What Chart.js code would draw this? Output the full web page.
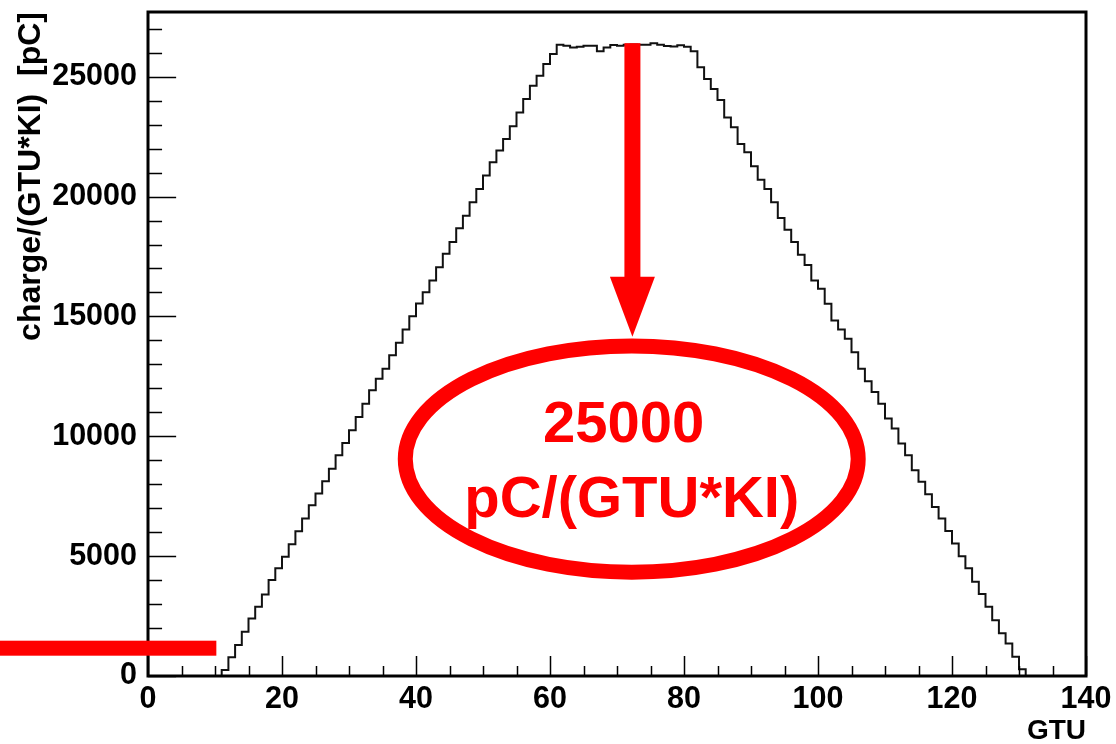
<!DOCTYPE html>
<html>
<head>
<meta charset="utf-8">
<script src="https://cdn.jsdelivr.net/npm/chart.js@4.4.1/dist/chart.umd.min.js"></script>
<style>
  html, body { margin: 0; padding: 0; background: #ffffff; }
  #wrap { width: 1116px; height: 744px; position: relative; }
</style>
</head>
<body>
<div id="wrap"><canvas id="c" width="1116" height="744"></canvas></div>
<script>
// Histogram range and axis ticks
const xRange = [0, 140];
const xTickValues = [0, 20, 40, 60, 80, 100, 120, 140];
const yTickValues = [0, 5000, 10000, 15000, 20000, 25000];
const yMax = 27700;

// Charge per GTU bin (bin i covers [i, i+1)), pC
const chargePerBin = [
  0, 0, 0, 0, 0, 0, 0, 0, 0, 0,
  0, 250, 780, 1290, 1850, 2400, 2890, 3400, 4000, 4490,
  4970, 5500, 6040, 6570, 7120, 7610, 8120, 8650, 9210, 9720,
  10250, 10800, 11360, 11920, 12400, 12820, 13380, 13900, 14460, 15010,
  15540, 16010, 16500, 17050, 17610, 18100, 18680, 19200, 19760, 20320,
  20880, 21430, 21920, 22400, 22930, 23510, 24070, 24620, 25040, 25530,
  25950, 26330, 26290, 26220, 26250, 26290, 26290, 26060, 26220, 26320,
  26290, 26330, 26340, 26330, 26330, 26400, 26330, 26280, 26260, 26310,
  26250, 26060, 25390, 24900, 24490, 24030, 23300, 22890, 22190, 21850,
  21260, 20700, 20320, 19760, 19110, 18620, 18100, 17570, 17150, 16500,
  16150, 15530, 14830, 14460, 14070, 13510, 12820, 12300, 11850, 11360,
  10740, 10320, 9700, 9210, 8580, 8100, 7580, 7050, 6570, 6050,
  5530, 5000, 4490, 3930, 3420, 2890, 2330, 1780, 1360, 800,
  280, 0, 0, 0, 0, 0, 0, 0, 0, 0
];

// Callout: arrow down from the plateau to an ellipse with the value note
const noteLines = ['25000 ', 'pC/(GTU*KI)'];
const arrow = { x: 72.3, top: 26400, tip: 14150 };
const ellipse = { x: 72.2, y: 9050, rx: 33.8, ry: 4720 };
const markerLine = { y: 1160, toX: 10.2 };

const RED = '#ff0000';
const FONT = '"Liberation Sans", Arial, Helvetica, sans-serif';

// Step outline points: one per bin low edge plus the closing upper edge
const points = chargePerBin.map((v, i) => ({ x: xRange[0] + i, y: v }));
points.push({ x: xRange[1], y: chargePerBin[chargePerBin.length - 1] });

const rootFrame = {
  id: 'rootFrame',
  afterDatasetsDraw(chart) {
    const { ctx, chartArea: a, scales: { x, y } } = chart;
    ctx.save();
    ctx.strokeStyle = '#000';
    ctx.lineWidth = 1.5;
    const lenX = (a.bottom - a.top) * 0.03;
    const lenY = (a.right - a.left) * 0.03;
    ctx.beginPath();
    for (let v = xRange[0]; v <= xRange[1]; v += 5) {
      const px = Math.round(x.getPixelForValue(v)) + 0.5;
      const L = v % 20 === 0 ? lenX : lenX / 2;
      ctx.moveTo(px, a.bottom);
      ctx.lineTo(px, a.bottom - L);
    }
    for (let v = 0; v <= yMax; v += 1000) {
      const py = Math.round(y.getPixelForValue(v)) + 0.5;
      const L = v % 5000 === 0 ? lenY : lenY / 2;
      ctx.moveTo(a.left, py);
      ctx.lineTo(a.left + L, py);
    }
    ctx.stroke();
    ctx.lineWidth = 3;
    ctx.strokeRect(a.left, a.top, a.right - a.left, a.bottom - a.top);
    ctx.restore();
  }
};

const callout = {
  id: 'callout',
  afterDraw(chart) {
    const { ctx, scales: { x, y } } = chart;
    ctx.save();
    ctx.fillStyle = RED;
    ctx.strokeStyle = RED;

    // marker bar from the page edge
    const my = y.getPixelForValue(markerLine.y);
    ctx.fillRect(0, my - 7.5, x.getPixelForValue(markerLine.toX), 15);

    // arrow shaft and head
    const ax = x.getPixelForValue(arrow.x);
    const aTop = y.getPixelForValue(arrow.top);
    const aTip = y.getPixelForValue(arrow.tip);
    const headLen = 60;
    ctx.fillRect(ax - 8, aTop, 16, aTip - aTop - headLen + 4);
    ctx.beginPath();
    ctx.moveTo(ax - 22.5, aTip - headLen);
    ctx.lineTo(ax + 22.5, aTip - headLen);
    ctx.lineTo(ax, aTip);
    ctx.closePath();
    ctx.fill();

    // ellipse
    const ex = x.getPixelForValue(ellipse.x);
    const ey = y.getPixelForValue(ellipse.y);
    const rx = x.getPixelForValue(ellipse.x + ellipse.rx) - ex;
    const ry = ey - y.getPixelForValue(ellipse.y + ellipse.ry);
    ctx.lineWidth = 15;
    ctx.beginPath();
    ctx.ellipse(ex, ey, rx, ry, 0, 0, Math.PI * 2);
    ctx.stroke();

    // note text
    ctx.font = 'bold 58px ' + FONT;
    ctx.textAlign = 'center';
    ctx.textBaseline = 'alphabetic';
    ctx.fillText(noteLines[0], ex, ey - 17);
    ctx.fillText(noteLines[1], ex, ey + 58);
    ctx.restore();
  }
};

const tickFont = { family: FONT, size: 30.5, weight: 'bold' };
const plainLabel = v => String(v);

new Chart(document.getElementById('c'), {
  type: 'line',
  data: {
    datasets: [{
      data: points,
      stepped: true,
      borderColor: '#111111',
      borderWidth: 2,
      pointRadius: 0,
      fill: false
    }]
  },
  options: {
    responsive: false,
    animation: false,
    layout: { padding: { left: 0, right: 30, top: 12, bottom: 0 } },
    plugins: { legend: { display: false }, tooltip: { enabled: false } },
    scales: {
      x: {
        type: 'linear',
        min: xRange[0],
        max: xRange[1],
        grid: { display: false, drawTicks: false },
        border: { display: false },
        afterBuildTicks: s => { s.ticks = xTickValues.map(v => ({ value: v })); },
        afterFit: s => { s.height = 68; s.paddingLeft = 0; s.paddingRight = 0; },
        ticks: { color: '#000', font: tickFont, padding: 5, maxRotation: 0, autoSkip: false, callback: plainLabel },
        title: {
          display: true, text: 'GTU', align: 'end', color: '#000',
          font: { family: FONT, size: 28, weight: 'bold' },
          padding: { top: 0, bottom: -4 }
        }
      },
      y: {
        type: 'linear',
        min: 0,
        max: yMax,
        grid: { display: false, drawTicks: false },
        border: { display: false },
        afterBuildTicks: s => { s.ticks = yTickValues.map(v => ({ value: v })); },
        afterFit: s => { s.width = 148; s.paddingTop = 0; s.paddingBottom = 0; },
        ticks: { color: '#000', font: tickFont, padding: 11, autoSkip: false, callback: plainLabel },
        title: {
          display: true, text: 'charge/(GTU*KI)  [pC]', align: 'end', color: '#000',
          font: { family: FONT, size: 32, weight: 'bold' },
          padding: { top: 12, bottom: 0 }
        }
      }
    }
  },
  plugins: [rootFrame, callout]
});
</script>
</body>
</html>
